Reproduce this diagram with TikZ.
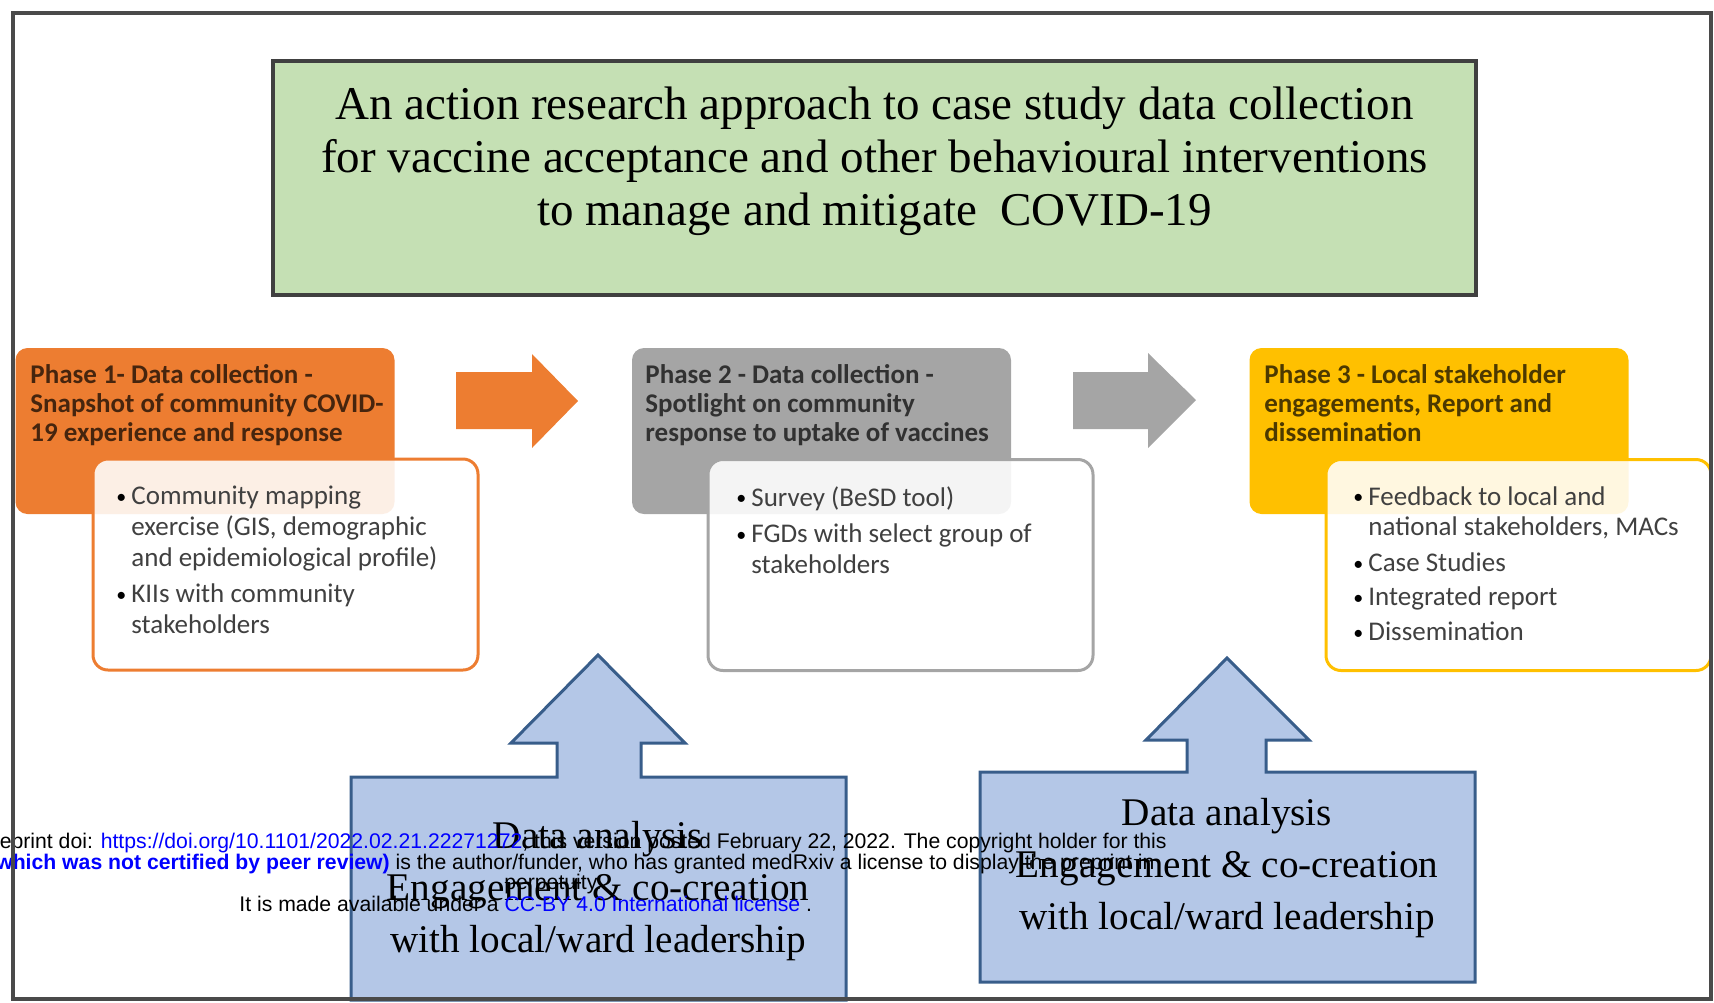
\documentclass[tikz,border=0pt]{standalone}
\usepackage{fontspec}
\setmainfont{Liberation Serif}
\newfontfamily\calfont{Carlito}
\newfontfamily\arifont{Liberation Sans}
\usetikzlibrary{positioning}

\definecolor{ttlgreen}{HTML}{C5E0B4}
\definecolor{ph1orange}{HTML}{ED7D31}
\definecolor{ph2gray}{HTML}{A5A5A5}
\definecolor{ph3yellow}{HTML}{FFC000}
\definecolor{dablue}{HTML}{B4C7E7}
\definecolor{daedge}{HTML}{385D8A}
\definecolor{frmgray}{HTML}{4A4A4A}
\definecolor{wmblue}{HTML}{0000FF}

\newcommand{\bul}{\makebox[6.5pt][l]{\hspace*{-1pt}\raisebox{0.6pt}{\textcolor{black}{\fontsize{10}{10}\selectfont\textbullet}}}}
\newcommand{\ind}{\hspace*{6.5pt}}

\begin{document}
\begin{tikzpicture}[x=0.5pt,y=-0.5pt]
	\tikzset{
		ttlbox/.style={
			rectangle, draw=black!75, line width=2pt, fill=ttlgreen,
			minimum width=601.5pt, minimum height=117pt, inner sep=0pt
		},
		ttltxt/.style={
			align=center, inner sep=0pt, font=\fontsize{23.5}{26.5}\selectfont
		},
		phasebox/.style={
			rectangle, rounded corners=6pt, minimum width=189.5pt,
			minimum height=83pt, inner sep=0pt
		},
		phasetxt/.style={
			anchor=north west, inner sep=0pt, align=left, text opacity=0.7,
			font=\calfont\bfseries\fontsize{13.5}{14.6}\selectfont
		},
		listbox/.style={
			rectangle, rounded corners=7.5pt, line width=1.5pt, fill=white,
			fill opacity=0.88, minimum width=192.5pt, minimum height=105.5pt,
			inner sep=0pt
		},
		listtxt/.style={
			anchor=north west, inner sep=0pt, align=left, text=black!75,
			font=\calfont\fontsize{13.5}{15.3}\selectfont
		},
		callout/.style={
			fill=dablue, draw=daedge, line width=1.5pt, line join=miter
		},
		datxt/.style={
			align=center, inner sep=0pt, font=\fontsize{19.6}{26}\selectfont
		},
		wmark/.style={
			inner sep=0pt, font=\arifont\fontsize{10.6}{10.6}\selectfont
		}
	}
	\useasboundingbox (0,0) rectangle (1714,1002);
	
	% ======= title =======
	\node[ttlbox] (ttl) at (874.5,178) {};
	\node[ttltxt] (ttlt) at (874.5,161.5) {An action research approach to case study data collection\\
		for vaccine acceptance and other behavioural interventions\\
		to manage and mitigate\ \ COVID-19};
	
	% ======= phase headers =======
	\node[phasebox, fill=ph1orange] (ph1) at (205,431) {};
	\node[phasebox, fill=ph2gray] (ph2) at (821.5,431) {};
	\node[phasebox, fill=ph3yellow] (ph3) at (1439,431) {};
	
	\node[phasetxt] (ph1t) at (30,364) {Phase 1- Data collection -\\
		Snapshot of community COVID-\\
		19 experience and response};
	\node[phasetxt] (ph2t) at (645,364) {Phase 2 - Data collection -\\
		Spotlight on community\\
		response to uptake of vaccines};
	\node[phasetxt] (ph3t) at (1264,364) {Phase 3 - Local stakeholder\\
		engagements, Report and\\
		dissemination};
	
	% ======= activity lists =======
	\node[listbox, draw=ph1orange] (ls1) at (285.5,564.5) {};
	\node[listbox, draw=ph2gray] (ls2) at (900.5,565) {};
	\node[listbox, draw=ph3yellow] (ls3) at (1518.5,565) {};
	
	\node[listtxt] (ls1t) at (118,486) {\bul Community mapping\\
		\ind exercise (GIS, demographic\\
		\ind and epidemiological profile)\\[3pt]
		\bul KIIs with community\\
		\ind stakeholders};
	\node[listtxt] (ls2t) at (738,486) {\bul Survey (BeSD tool)\\[3pt]
		\bul FGDs with select group of\\
		\ind stakeholders};
	\node[listtxt] (ls3t) at (1355,486) {\bul Feedback to local and\\
		\ind national stakeholders, MACs\\[2.5pt]
		\bul Case Studies\\[2pt]
		\bul Integrated report\\[2pt]
		\bul Dissemination};
	
	% ======= block arrows between phases =======
	\fill[ph1orange] (456,372) -- (532,372) -- (532,354) -- (578,401)
		-- (532,448) -- (532,429) -- (456,429) -- cycle;
	\fill[ph2gray] (1073,372) -- (1148,372) -- (1148,353) -- (1196,400)
		-- (1148,448) -- (1148,429) -- (1073,429) -- cycle;
	
	% ======= data analysis callouts =======
	\draw[callout] (351,1000) -- (351,777) -- (557,777) -- (557,743) -- (511,743)
		-- (598,655) -- (685,743) -- (641,743) -- (641,777) -- (846,777)
		-- (846,1000) -- cycle;
	\draw[callout] (980,982) -- (980,772) -- (1187,772) -- (1187,740) -- (1146,740)
		-- (1227,658) -- (1309,740) -- (1266,740) -- (1266,772) -- (1475,772)
		-- (1475,982) -- cycle;
	
	\node[datxt] (da1) at (598,891) {Data analysis\\
		Engagement \& co-creation\\
		with local/ward leadership};
	\node[datxt] (da2) at (1227,868) {Data analysis\\
		Engagement \& co-creation\\
		with local/ward leadership};
	
	% ======= preprint notice =======
	\node[wmark, anchor=east] (wm1) at (1167,843) {medRxiv preprint doi:
		\textcolor{wmblue}{https://doi.org/10.1101/2022.02.21.22271272}; this version
		posted February 22, 2022. The copyright holder for this};
	\node[wmark, anchor=east] (wm2) at (1155,864) {\textcolor{wmblue}{\bfseries(which
		was not certified by peer review)} is the author/funder, who has granted
		medRxiv a license to display the preprint in};
	\node[wmark] (wm3) at (553,884) {perpetuity.};
	\node[wmark, anchor=west] (wm4) at (239,904) {It is made available under a
		\textcolor{wmblue}{CC-BY 4.0 International license} .};
	
	% ======= outer frame =======
	\draw[frmgray, line width=2pt] (13,12.5) rectangle (1710.5,999);
\end{tikzpicture}
\end{document}
